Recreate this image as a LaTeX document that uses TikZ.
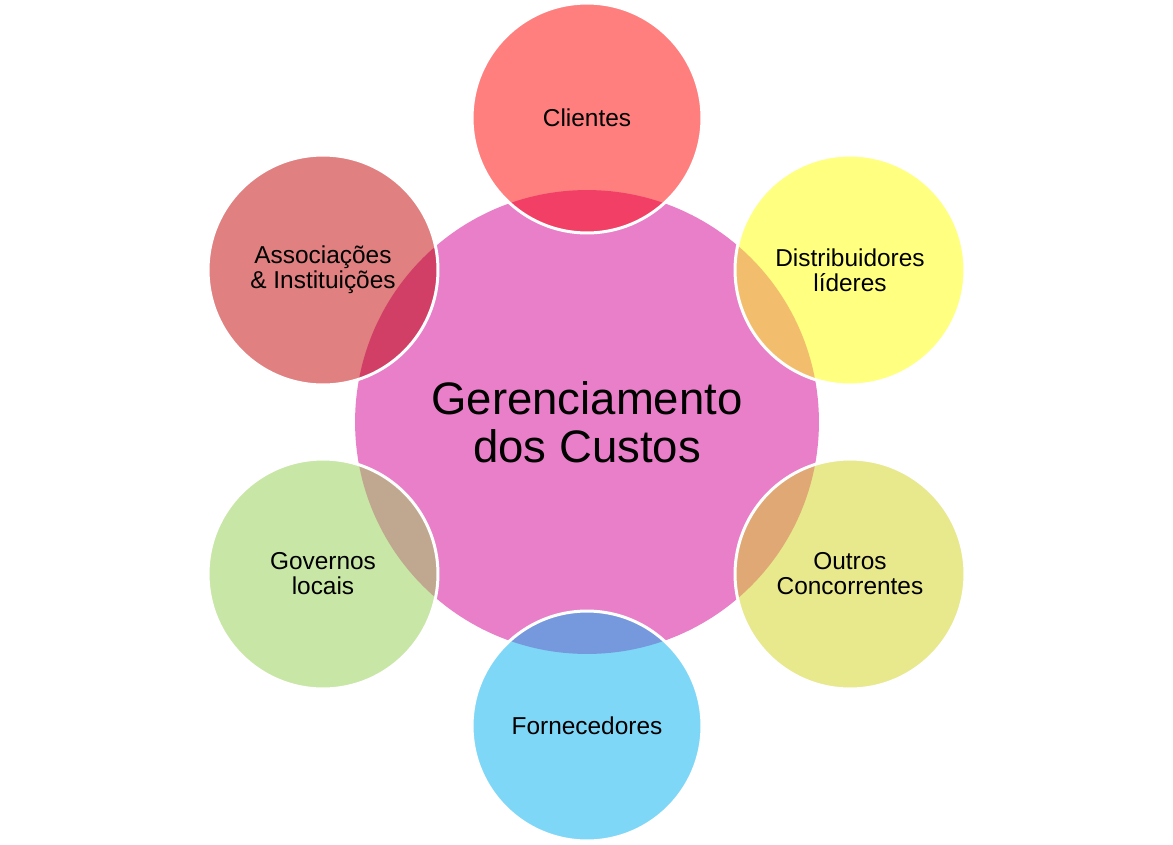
\documentclass[tikz,border=0pt]{standalone}
\usepackage{fontspec}
\setmainfont{Liberation Sans}
\definecolor{hubC}{HTML}{E87FC8}
\definecolor{cliC}{HTML}{FF7F7F}
\definecolor{cliO}{HTML}{F23F65}
\definecolor{disC}{HTML}{FFFF80}
\definecolor{disO}{HTML}{F2BE6E}
\definecolor{outC}{HTML}{E8E88C}
\definecolor{outO}{HTML}{DFA875}
\definecolor{forC}{HTML}{7FD7F7}
\definecolor{forO}{HTML}{7698DC}
\definecolor{govC}{HTML}{C8E6A5}
\definecolor{govO}{HTML}{BFA88F}
\definecolor{assC}{HTML}{E08080}
\definecolor{assO}{HTML}{D13F66}
\tikzset{
  hub/.style={circle,fill=hubC,minimum size=9.28cm,inner sep=0pt,align=center,
    font=\fontsize{25.9}{27.3}\selectfont},
  petal/.style={circle,minimum size=4.6cm,inner sep=0pt,align=center,
    font=\fontsize{13.9}{14.2}\selectfont},
}
\begin{document}
\begin{tikzpicture}[x=0.02cm,y=-0.02cm]
  \useasboundingbox (0,0) rectangle (1173,845);
  % --- cerchio centrale ---
  \node[hub] (hub) at (587,422) {Gerenciamento\\dos Custos};
  % --- cerchi esterni, con la zona sovrapposta ---
  \foreach \n/\x/\y/\c/\o/\t in {%
      cli/587/118/cliC/cliO/Clientes,
      dis/850/270/disC/disO/{Distribuidores\\líderes},
      out/850/574/outC/outO/{Outros\\Concorrentes},
      for/587/726/forC/forO/Fornecedores,
      gov/323/574/govC/govO/{Governos\\locais},
      ass/323/270/assC/assO/{Associações\\\& Instituições}}{
    \fill[\c] (\x,\y) circle (2.3cm);
    \begin{scope}
      \clip (\x,\y) circle (2.3cm);
      \fill[\o] (hub.center) circle (4.64cm);
    \end{scope}
    \draw[white,line width=1.7pt] (\x,\y) circle (2.3cm);
    \node[petal] (\n) at (\x,\y) {\t};
  }
\end{tikzpicture}
\end{document}
